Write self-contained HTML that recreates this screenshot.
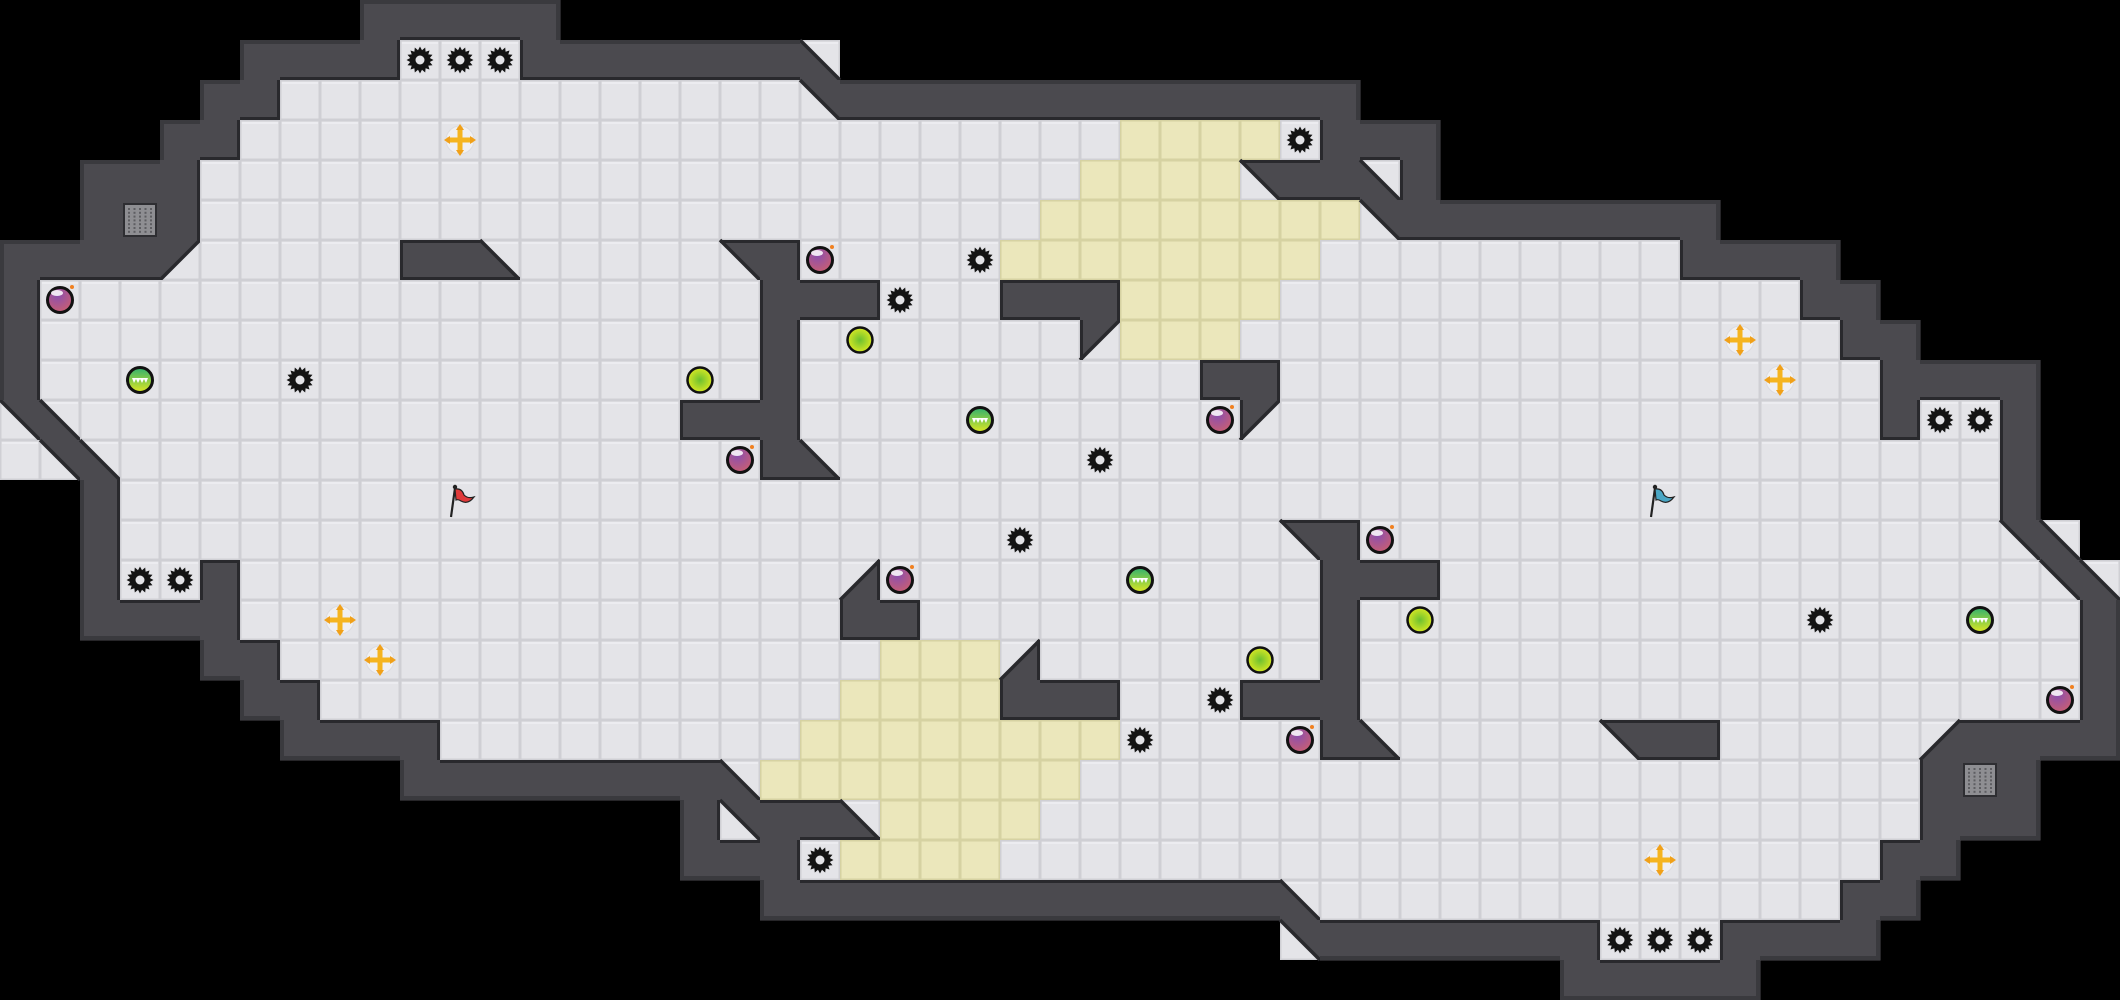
<!DOCTYPE html>
<html><head><meta charset="utf-8"><style>
html,body{margin:0;padding:0;background:#000;width:2120px;height:1000px;overflow:hidden}
svg{display:block}
</style></head><body>
<svg id="s" xmlns="http://www.w3.org/2000/svg" width="2120" height="1000" viewBox="0 0 2120 1000">
<defs>
<radialGradient id="pur" cx="0.4" cy="0.3" r="0.8"><stop offset="0" stop-color="#8a4fb0"/><stop offset="1" stop-color="#d0606a"/></radialGradient>
<linearGradient id="grn" x1="0" y1="0" x2="0" y2="1"><stop offset="0" stop-color="#2fb070"/><stop offset="1" stop-color="#e0e820"/></linearGradient>
<radialGradient id="yel" cx="0.5" cy="0.5" r="0.6"><stop offset="0" stop-color="#6cc030"/><stop offset="1" stop-color="#eef020"/></radialGradient>
</defs>
<rect width="2120" height="1000" fill="#000"/>
<g id="g"></g>
</svg>
<script>
var S=[
[[9,13,'#']],
[[6,9,'#'],[10,12,'g'],[13,19,'#'],[20,20,'b']],
[[5,6,'#'],[7,19,'.'],[20,20,'p'],[21,33,'#']],
[[4,5,'#'],[6,27,'.'],[28,31,'y'],[32,32,'g'],[33,35,'#']],
[[2,4,'#'],[5,26,'.'],[27,30,'y'],[31,31,'p'],[32,33,'#'],[34,34,'b'],[35,35,'#']],
[[2,2,'#'],[3,3,'v'],[4,4,'#'],[5,25,'.'],[26,33,'y'],[34,34,'p'],[35,42,'#']],
[[0,3,'#'],[4,4,'q'],[5,9,'.'],[10,11,'#'],[12,12,'b'],[13,17,'.'],[18,18,'p'],[19,19,'#'],[20,24,'.'],[25,32,'y'],[33,41,'.'],[42,45,'#']],
[[0,0,'#'],[1,18,'.'],[19,21,'#'],[22,24,'.'],[25,27,'#'],[28,31,'y'],[32,44,'.'],[45,46,'#']],
[[0,0,'#'],[1,18,'.'],[19,19,'#'],[20,26,'.'],[27,27,'q'],[28,30,'y'],[31,45,'.'],[46,47,'#']],
[[0,0,'#'],[1,18,'.'],[19,19,'#'],[20,29,'.'],[30,31,'#'],[32,46,'.'],[47,50,'#']],
[[0,0,'p'],[1,1,'b'],[2,16,'.'],[17,19,'#'],[20,30,'.'],[31,31,'q'],[32,46,'.'],[47,47,'#'],[48,49,'g'],[50,50,'#']],
[[0,0,'.'],[1,1,'p'],[2,2,'b'],[3,18,'.'],[19,19,'#'],[20,20,'b'],[21,49,'.'],[50,50,'#']],
[[2,2,'#'],[3,49,'.'],[50,50,'#']],
[[2,2,'#'],[3,31,'.'],[32,32,'p'],[33,33,'#'],[34,49,'.'],[50,50,'p'],[51,51,'b']],
[[2,2,'#'],[3,4,'g'],[5,5,'#'],[6,20,'.'],[21,21,'d'],[22,32,'.'],[33,35,'#'],[36,50,'.'],[51,51,'p'],[52,52,'b']],
[[2,5,'#'],[6,20,'.'],[21,22,'#'],[23,32,'.'],[33,33,'#'],[34,51,'.'],[52,52,'#']],
[[5,6,'#'],[7,21,'.'],[22,24,'y'],[25,25,'d'],[26,32,'.'],[33,33,'#'],[34,51,'.'],[52,52,'#']],
[[6,7,'#'],[8,20,'.'],[21,24,'y'],[25,27,'#'],[28,30,'.'],[31,33,'#'],[34,51,'.'],[52,52,'#']],
[[7,10,'#'],[11,19,'.'],[20,27,'y'],[28,32,'.'],[33,33,'#'],[34,34,'b'],[35,39,'.'],[40,40,'p'],[41,42,'#'],[43,47,'.'],[48,48,'d'],[49,52,'#']],
[[10,17,'#'],[18,18,'b'],[19,26,'y'],[27,47,'.'],[48,48,'#'],[49,49,'v'],[50,50,'#']],
[[17,17,'#'],[18,18,'p'],[19,20,'#'],[21,21,'b'],[22,25,'y'],[26,47,'.'],[48,50,'#']],
[[17,19,'#'],[20,20,'g'],[21,24,'y'],[25,46,'.'],[47,48,'#']],
[[19,31,'#'],[32,32,'b'],[33,45,'.'],[46,47,'#']],
[[32,32,'p'],[33,39,'#'],[40,42,'g'],[43,46,'#']],
[[39,43,'#']]
];
var M=[];
for(var i=0;i<S.length;i++){var a=[];for(var k=0;k<53;k++)a.push(' ');S[i].forEach(function(sg){for(var k=sg[0];k<=sg[1];k++)a[k]=sg[2];});M.push(a.join(''));}
var T=40,out=[];
function ch(r,c){if(r<0||r>=M.length||c<0||c>=53)return " ";return M[r][c];}
function hasWall(t,side){
 if(t=="#"||t=="v")return true;
 if(t=="p")return side=="t"||side=="r";
 if(t=="q")return side=="t"||side=="l";
 if(t=="b")return side=="b"||side=="l";
 if(t=="d")return side=="b"||side=="r";
 return false;}
var W="#4b4a4f",EDGE="#29292d",RIM="#3a3a3e";
function floorTile(x,y,yellow){
 if(yellow){out.push('<rect x="'+x+'" y="'+y+'" width="40" height="40" fill="#d6d2a2"/><rect x="'+(x+1.5)+'" y="'+(y+1.5)+'" width="37" height="37" fill="#ebe7bb"/>');}
 else{out.push('<rect x="'+x+'" y="'+y+'" width="40" height="40" fill="#cfcfd4"/><rect x="'+(x+1.5)+'" y="'+(y+1.5)+'" width="37" height="37" fill="#e4e4e8"/><rect x="'+(x+2)+'" y="'+(y+2)+'" width="36" height="2" fill="#ececf0"/>');}
}
for(var r=0;r<M.length;r++)for(var c=0;c<53;c++){
 var t=M[r][c],x=c*T,y=r*T;
 if(t==" ")continue;
 if(t=="."||t=="g")floorTile(x,y,false);
 else if(t=="y")floorTile(x,y,true);
 else if(t=="#"||t=="v")out.push('<rect x="'+x+'" y="'+y+'" width="40.5" height="40.5" fill="'+W+'"/>');
 else{
  floorTile(x,y,false);
  var pts,hyp;
  if(t=="p"){pts=[x,y,x+40,y,x+40,y+40];hyp=[x,y,x+40,y+40];}
  if(t=="q"){pts=[x,y,x+40,y,x,y+40];hyp=[x+40,y,x,y+40];}
  if(t=="b"){pts=[x,y,x,y+40,x+40,y+40];hyp=[x,y,x+40,y+40];}
  if(t=="d"){pts=[x+40,y,x+40,y+40,x,y+40];hyp=[x+40,y,x,y+40];}
  out.push('<polygon points="'+pts.join(",")+'" fill="'+W+'"/>');
  out.push('<line x1="'+hyp[0]+'" y1="'+hyp[1]+'" x2="'+hyp[2]+'" y2="'+hyp[3]+'" stroke="'+EDGE+'" stroke-width="3.5"/>');
 }
}
var opp={t:"b",b:"t",l:"r",r:"l"},d={t:[-1,0],b:[1,0],l:[0,-1],r:[0,1]};
for(var r=0;r<M.length;r++)for(var c=0;c<53;c++){
 var t=M[r][c],x=c*T,y=r*T;
 ["t","b","l","r"].forEach(function(s){
  if(!hasWall(t,s))return;
  var n=ch(r+d[s][0],c+d[s][1]);
  if(hasWall(n,opp[s]))return;
  var col=(n==" ")?RIM:EDGE,w=(n==" ")?4:3;
  var rx=x,ry=y,rw=40,rh=40;
  if(s=="t")rh=w; if(s=="b"){ry=y+40-w;rh=w;} if(s=="l")rw=w; if(s=="r"){rx=x+40-w;rw=w;}
  out.push('<rect x="'+rx+'" y="'+ry+'" width="'+rw+'" height="'+rh+'" fill="'+col+'"/>');
 });
}
function C(c,r){return [c*T+20,r*T+20];}
function gear(c,r){var p=C(c,r),s=[];for(var i=0;i<32;i++){var a=i*Math.PI/16,R=(i%2?10:13.5);s.push((p[0]+R*Math.cos(a)).toFixed(1)+","+(p[1]+R*Math.sin(a)).toFixed(1));}
 out.push('<polygon points="'+s.join(" ")+'" fill="#141414"/><circle cx="'+p[0]+'" cy="'+p[1]+'" r="4.5" fill="#e4e4e8"/>');}
function bomb(c,r){var p=C(c,r);out.push('<circle cx="'+p[0]+'" cy="'+p[1]+'" r="12.5" fill="url(#pur)" stroke="#111" stroke-width="3"/><ellipse cx="'+(p[0]-3)+'" cy="'+(p[1]-7)+'" rx="6" ry="3" fill="#fff" opacity="0.85"/><circle cx="'+(p[0]+12)+'" cy="'+(p[1]-13)+'" r="2" fill="#f08020"/>');}
function gbomb(c,r){var p=C(c,r),x=p[0],y=p[1];out.push('<circle cx="'+x+'" cy="'+y+'" r="12.5" fill="url(#grn)" stroke="#111" stroke-width="3"/><polygon points="'+(x-8)+','+(y-2)+' '+(x+8)+','+(y-2)+' '+(x+6)+','+(y+3)+' '+(x+4)+','+(y-1)+' '+(x+2)+','+(y+3)+' '+x+','+(y-1)+' '+(x-2)+','+(y+3)+' '+(x-4)+','+(y-1)+' '+(x-6)+','+(y+3)+'" fill="#fff"/>');}
function yball(c,r){var p=C(c,r);out.push('<circle cx="'+p[0]+'" cy="'+p[1]+'" r="12.5" fill="url(#yel)" stroke="#111" stroke-width="2.5"/>');}
function cross(c,r){var p=C(c,r),x=p[0],y=p[1];out.push('<circle cx="'+x+'" cy="'+y+'" r="14" fill="#f0f0f2" stroke="#dcdce0" stroke-width="1"/><rect x="'+(x-2.5)+'" y="'+(y-13)+'" width="5" height="26" fill="#f5b520"/><rect x="'+(x-13)+'" y="'+(y-2.5)+'" width="26" height="5" fill="#f5b520"/><polygon points="'+x+','+(y-16)+' '+(x-4)+','+(y-10)+' '+(x+4)+','+(y-10)+'" fill="#f0a018"/><polygon points="'+x+','+(y+16)+' '+(x-4)+','+(y+10)+' '+(x+4)+','+(y+10)+'" fill="#f0a018"/><polygon points="'+(x-16)+','+y+' '+(x-10)+','+(y-4)+' '+(x-10)+','+(y+4)+'" fill="#f0a018"/><polygon points="'+(x+16)+','+y+' '+(x+10)+','+(y-4)+' '+(x+10)+','+(y+4)+'" fill="#f0a018"/>');}
function flag(c,r,col){var p=C(c,r),x=p[0],y=p[1];out.push('<line x1="'+(x-9)+'" y1="'+(y+17)+'" x2="'+(x-5)+'" y2="'+(y-12)+'" stroke="#222" stroke-width="2.2"/><circle cx="'+(x-5)+'" cy="'+(y-13)+'" r="2.2" fill="#222"/><path d="M'+(x-5)+' '+(y-11)+' Q'+(x+2)+' '+(y-12)+' '+(x+4)+' '+(y-5)+' Q'+(x+8)+' '+(y-1)+' '+(x+14)+' '+(y-3)+' Q'+(x+8)+' '+(y+5)+' '+(x+1)+' '+(y+1)+' Q'+(x-2)+' '+(y-1)+' '+(x-4)+' '+y+' Z" fill="'+col+'" stroke="#222" stroke-width="1.2"/>');}
function vent(c,r){var x=c*T,y=r*T;out.push('<rect x="'+(x+3)+'" y="'+(y+3)+'" width="34" height="34" fill="#2e2e32"/><rect x="'+(x+5)+'" y="'+(y+5)+'" width="30" height="30" fill="#8e8e92"/>');
 for(var i=0;i<5;i++)for(var j=0;j<7;j++)out.push('<rect x="'+(x+8+i*5.5)+'" y="'+(y+8+j*3.8)+'" width="2" height="2" fill="#5e5e62"/>');}
[[10,1],[11,1],[12,1],[32,3],[24,6],[22,7],[7,9],[27,11],[25,13],[3,14],[4,14],[45,15],[30,17],[28,18],[20,21],[40,23],[41,23],[42,23],[48,10],[49,10]].forEach(function(a){gear(a[0],a[1]);});
[[1,7],[20,6],[18,11],[22,14],[30,10],[34,13],[32,18],[51,17]].forEach(function(a){bomb(a[0],a[1]);});
[[3,9],[24,10],[28,14],[49,15]].forEach(function(a){gbomb(a[0],a[1]);});
[[21,8],[17,9],[35,15],[31,16]].forEach(function(a){yball(a[0],a[1]);});
[[11,3],[8,15],[9,16],[43,8],[44,9],[41,21]].forEach(function(a){cross(a[0],a[1]);});
flag(11,12,"#e03a3a");flag(41,12,"#4aa6c4");
vent(3,5);vent(49,19);
document.getElementById("g").innerHTML=out.join("");
</script>
</body></html>
